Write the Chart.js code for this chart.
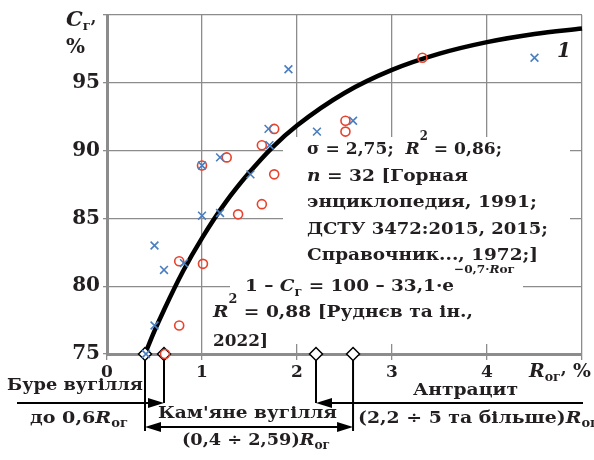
<!DOCTYPE html>
<html>
<head>
<meta charset="utf-8">
<script src="https://cdn.jsdelivr.net/npm/chart.js@4.4.1/dist/chart.umd.min.js"></script>
<style>
  html, body { margin: 0; padding: 0; background: #fff; }
  canvas { display: block; }
</style>
</head>
<body>
<canvas id="c" width="594" height="460"></canvas>
<script>
// ---- data ----
const xTickValues = [0, 1, 2, 3, 4, 5];
const yTickValues = [75, 80, 85, 90, 95, 100];

// blue crosses (R_ог, C_г)
const blueR = [1.91, 4.50, 2.59, 2.21, 1.70, 1.71, 1.19, 1.00, 1.51, 1.00, 1.19, 0.50, 0.60, 0.81, 0.50, 0.41];
const blueC = [96.0, 96.85, 92.2, 91.4, 91.6, 90.4, 89.5, 88.9, 88.25, 85.2, 85.4, 83.0, 81.2, 81.7, 77.1, 75.0];

// red circles
const redR = [3.32, 2.51, 2.51, 1.76, 1.63, 1.26, 1.00, 1.76, 1.63, 1.38, 0.76, 1.01, 0.76, 0.61];
const redC = [96.85, 92.2, 91.4, 91.6, 90.4, 89.5, 88.9, 88.25, 86.05, 85.3, 81.84, 81.65, 77.1, 75.0];

// fitted curve 1
const curveR = [0.4, 0.5, 0.6, 0.8, 1.0, 1.25, 1.5, 1.75, 2.0, 2.5, 3.0, 3.5, 4.0, 4.5, 5.0];
const curveC = [75.0, 76.7, 78.25, 81.1, 83.55, 86.2, 88.4, 90.3, 91.85, 94.25, 95.95, 97.15, 98.0, 98.6, 99.0];

// coal-rank boundaries (diamonds on the axis)
const boundaryR = [0.4, 0.6, 2.2, 2.59];
const boundaryC = [75, 75, 75, 75];

const pts = (xs, ys) => xs.map((x, i) => ({ x: x, y: ys[i] }));

const FONT = '"DejaVu Serif", "Liberation Serif", serif';
const INK = '#231f20';
const GRID = '#8c8c8c';

function fontStr(size, italic) {
  return (italic ? 'italic ' : '') + 'bold ' + size + 'px ' + FONT;
}
function measureRich(ctx, parts, base) {
  let w = 0;
  for (const p of parts) {
    ctx.font = fontStr(p.s || base, p.i);
    w += ctx.measureText(p.t).width;
  }
  return w;
}
// draw styled parts; optional target width stretches the run horizontally
function rich(ctx, x, y, parts, base, align, target) {
  const natural = measureRich(ctx, parts, base);
  const sx = target ? target / natural : 1;
  const w = natural * sx;
  let left = x;
  if (align === 'center') left = x - w / 2;
  if (align === 'right') left = x - w;
  ctx.save();
  ctx.translate(left, y);
  ctx.scale(sx, 1);
  ctx.textAlign = 'left';
  ctx.textBaseline = 'alphabetic';
  ctx.fillStyle = INK;
  let cx = 0;
  for (const p of parts) {
    ctx.font = fontStr(p.s || base, p.i);
    ctx.fillText(p.t, cx, p.dy || 0);
    cx += ctx.measureText(p.t).width;
  }
  ctx.restore();
  return left + w;
}

function arrowHead(ctx, tipX, y, dir) {
  ctx.beginPath();
  ctx.moveTo(tipX, y);
  ctx.lineTo(tipX - dir * 16, y - 5);
  ctx.lineTo(tipX - dir * 16, y + 5);
  ctx.closePath();
  ctx.fill();
}

const boxPlugin = {
  id: 'boxes',
  beforeDatasetsDraw(chart) {
    const ctx = chart.ctx;
    ctx.save();
    ctx.fillStyle = '#ffffff';
    ctx.fillRect(283, 137, 287, 134);
    ctx.fillRect(230, 271, 293, 73);
    ctx.restore();
  },
  afterDatasetsDraw(chart) {
    const ctx = chart.ctx;
    ctx.save();
    const F = 17.5;
    // box 1
    rich(ctx, 307, 154, [
      { t: 'σ = 2,75;  ' }, { t: 'R', i: true }, { t: '2', s: 12, dy: -14 }, { t: ' = 0,86;' }
    ], F, 'left', 195);
    rich(ctx, 307, 181, [{ t: 'n', i: true }, { t: ' = 32 [Горная' }], F, 'left', 161);
    rich(ctx, 307, 207, [{ t: 'энциклопедия, 1991;' }], F, 'left', 230);
    rich(ctx, 307, 234, [{ t: 'ДСТУ 3472:2015, 2015;' }], F, 'left', 241);
    rich(ctx, 307, 260, [{ t: 'Справочник..., 1972;]' }], F, 'left', 231);
    // box 2
    rich(ctx, 245, 291, [
      { t: '1 – ' }, { t: 'C', i: true }, { t: 'г', s: 12, dy: 5 }, { t: ' = 100 – 33,1·e' },
      { t: '−0,7·', s: 11.5, dy: -18 }, { t: 'R', s: 11.5, i: true, dy: -18 }, { t: 'ог', s: 11.5, dy: -18 }
    ], F, 'left', 270);
    rich(ctx, 213, 317, [
      { t: 'R', i: true }, { t: '2', s: 12, dy: -14 }, { t: ' = 0,88 [Руднєв та ін.,' }
    ], F, 'left', 260);
    rich(ctx, 213, 346, [{ t: '2022]' }], F, 'left', 55);
    // curve number
    rich(ctx, 557, 57, [{ t: '1', i: true }], 20);
    ctx.restore();
  },
  afterDraw(chart) {
    const ctx = chart.ctx;
    const xs = chart.scales.x;
    const ys = chart.scales.y;
    ctx.save();
    // axis titles
    rich(ctx, 66, 26, [{ t: 'C', i: true }, { t: 'г', s: 13, dy: 4 }, { t: ',', s: 16, dy: -3 }], 21);
    rich(ctx, 66, 53, [{ t: '%' }], 20);
    rich(ctx, 529, 377, [{ t: 'R', i: true }, { t: 'ог', s: 12, dy: 4 }, { t: ',', s: 16, dy: -3 }, { t: ' %' }], 18, 'left', 62);

    // boundary drop lines and arrows
    const yAxis = ys.getPixelForValue(75);
    const p04 = xs.getPixelForValue(boundaryR[0]);
    const p06 = xs.getPixelForValue(boundaryR[1]);
    const p22 = xs.getPixelForValue(boundaryR[2]);
    const p259 = xs.getPixelForValue(boundaryR[3]);
    ctx.strokeStyle = '#000';
    ctx.fillStyle = '#000';
    ctx.lineWidth = 2;
    const yA1 = 403, yA2 = 427;
    ctx.beginPath();
    ctx.moveTo(p04, yAxis + 6); ctx.lineTo(p04, 431);
    ctx.moveTo(p06, yAxis + 6); ctx.lineTo(p06, yA1);
    ctx.moveTo(p22, yAxis + 6); ctx.lineTo(p22, yA1);
    ctx.moveTo(p259, yAxis + 6); ctx.lineTo(p259, 431);
    ctx.moveTo(17, yA1); ctx.lineTo(p06 - 10, yA1);
    ctx.moveTo(p04 + 10, yA2); ctx.lineTo(p259 - 10, yA2);
    ctx.moveTo(p22 + 10, yA1); ctx.lineTo(583, yA1);
    ctx.stroke();
    arrowHead(ctx, p06, yA1, 1);
    arrowHead(ctx, p04, yA2, -1);
    arrowHead(ctx, p259, yA2, 1);
    arrowHead(ctx, p22, yA1, -1);

    const F = 17.5;
    rich(ctx, 7, 390, [{ t: 'Буре вугілля' }], F, 'left', 136);
    rich(ctx, 30, 423, [{ t: 'до 0,6' }, { t: 'R', i: true }, { t: 'ог', s: 12, dy: 4 }], F, 'left', 98);
    rich(ctx, 158, 418, [{ t: 'Кам\'яне вугілля' }], F, 'left', 179);
    rich(ctx, 182, 445, [{ t: '(0,4 ÷ 2,59)' }, { t: 'R', i: true }, { t: 'ог', s: 12, dy: 4 }], F, 'left', 148);
    rich(ctx, 413, 395, [{ t: 'Антрацит' }], F, 'left', 105);
    rich(ctx, 358, 423, [{ t: '(2,2 ÷ 5 та більше)' }, { t: 'R', i: true }, { t: 'ог', s: 12, dy: 4 }], F, 'left', 240);
    ctx.restore();
  }
};

new Chart(document.getElementById('c'), {
  type: 'scatter',
  data: {
    datasets: [
      {
        label: 'blue',
        data: pts(blueR, blueC),
        pointStyle: 'crossRot',
        pointRadius: 5.5,
        pointBorderWidth: 1.6,
        borderColor: '#4a7ebf',
        backgroundColor: '#4a7ebf',
        order: 0,
        clip: false
      },
      {
        label: 'red',
        data: pts(redR, redC),
        pointStyle: 'circle',
        pointRadius: 4.5,
        pointBorderWidth: 1.6,
        borderColor: '#e8412c',
        backgroundColor: 'rgba(0,0,0,0)',
        order: 1,
        clip: false
      },
      {
        label: 'boundaries',
        data: pts(boundaryR, boundaryC),
        pointStyle: 'rectRot',
        pointRadius: 6.5,
        pointBorderWidth: 1.5,
        borderColor: '#000',
        backgroundColor: '#fff',
        order: 2,
        clip: false
      },
      {
        label: 'curve',
        type: 'line',
        data: pts(curveR, curveC),
        showLine: true,
        borderColor: '#000',
        borderWidth: 4.5,
        pointRadius: 0,
        cubicInterpolationMode: 'monotone',
        fill: false,
        order: 3,
        clip: false
      }
    ]
  },
  options: {
    responsive: false,
    animation: false,
    layout: { padding: { left: 0, right: 12, top: 13, bottom: 0 } },
    plugins: { legend: { display: false }, tooltip: { enabled: false } },
    scales: {
      x: {
        type: 'linear',
        min: 0, max: 5,
        afterFit(scale) { scale.height = 106; },
        afterBuildTicks(scale) { scale.ticks = xTickValues.map(v => ({ value: v })); },
        ticks: {
          callback: v => (v === 5 ? '' : String(v)),
          font: { family: FONT, size: 17, weight: 'bold' },
          color: INK,
          padding: 2,
          maxRotation: 0
        },
        grid: { color: GRID, lineWidth: 1.3, tickLength: 6, tickColor: GRID },
        border: { color: GRID, width: 3 }
      },
      y: {
        type: 'linear',
        min: 75, max: 100,
        afterFit(scale) { scale.width = 107; },
        afterBuildTicks(scale) { scale.ticks = yTickValues.map(v => ({ value: v })); },
        ticks: {
          callback: v => (v === 100 ? '' : String(v)),
          font: { family: FONT, size: 20, weight: 'bold' },
          color: INK,
          padding: 3
        },
        grid: { color: GRID, lineWidth: 1.3, tickLength: 4, tickColor: GRID },
        border: { color: GRID, width: 3 }
      }
    }
  },
  plugins: [boxPlugin]
});
</script>
</body>
</html>
